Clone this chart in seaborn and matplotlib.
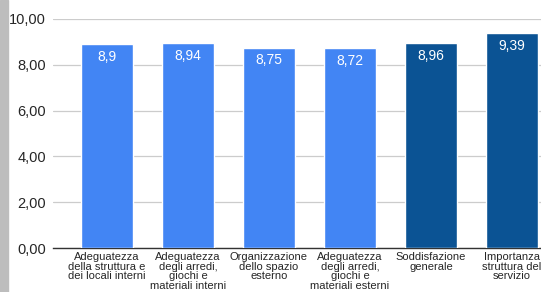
import matplotlib
matplotlib.use("Agg")
import matplotlib.pyplot as plt
import seaborn as sns
import pandas as pd

categories = [
    "Adeguatezza\ndella struttura e\ndei locali interni",
    "Adeguatezza\ndegli arredi,\ngiochi e\nmateriali interni",
    "Organizzazione\ndello spazio\nesterno",
    "Adeguatezza\ndegli arredi,\ngiochi e\nmateriali esterni",
    "Soddisfazione\ngenerale",
    "Importanza\nstruttura del\nservizio",
]
values = [8.9, 8.94, 8.75, 8.72, 8.96, 9.39]
value_labels = ["8,9", "8,94", "8,75", "8,72", "8,96", "9,39"]
bar_colors = ["#4285F4", "#4285F4", "#4285F4", "#4285F4", "#0B5394", "#0B5394"]
yticks = [0, 2, 4, 6, 8, 10]

df = pd.DataFrame({"cat": categories, "val": values})

sns.set_theme(style="white")
plt.rcParams["font.family"] = ["Liberation Sans", "DejaVu Sans"]

fig = plt.figure(figsize=(5.41, 2.92), dpi=100)
# grey strip on the left edge
fig.patches.append(plt.Rectangle((0, 0), 8 / 541, 1, transform=fig.transFigure,
                                 color="#bdbdbd", zorder=0))
ax = fig.add_axes([53 / 541, 44 / 292, 488 / 541, 229 / 292])

sns.barplot(data=df, x="cat", y="val", hue="cat", palette=bar_colors,
            legend=False, width=0.64, saturation=1, ax=ax, zorder=3)

for i, (v, lab) in enumerate(zip(values, value_labels)):
    ax.text(i, v - 0.25, lab, ha="center", va="top", color="white",
            fontsize=10, zorder=4)

ax.set_ylim(0, 10)
ax.set_xlim(-0.667, 5.36)
ax.set_yticks(yticks)
ax.set_yticklabels([f"{t:.2f}".replace(".", ",") for t in yticks], fontsize=10.5)
ax.tick_params(axis="x", labelsize=8, pad=3, length=0)
ax.tick_params(axis="y", length=0, pad=5)
ax.yaxis.grid(True, color="#cccccc", linewidth=0.9, zorder=0)
ax.set_axisbelow(True)
ax.set_xlabel("")
ax.set_ylabel("")
for s in ["top", "right", "left"]:
    ax.spines[s].set_visible(False)
ax.spines["bottom"].set_color("#333333")
ax.spines["bottom"].set_linewidth(1)
for lab in ax.get_xticklabels():
    lab.set_linespacing(0.95)

fig.savefig("out.png", dpi=100)
